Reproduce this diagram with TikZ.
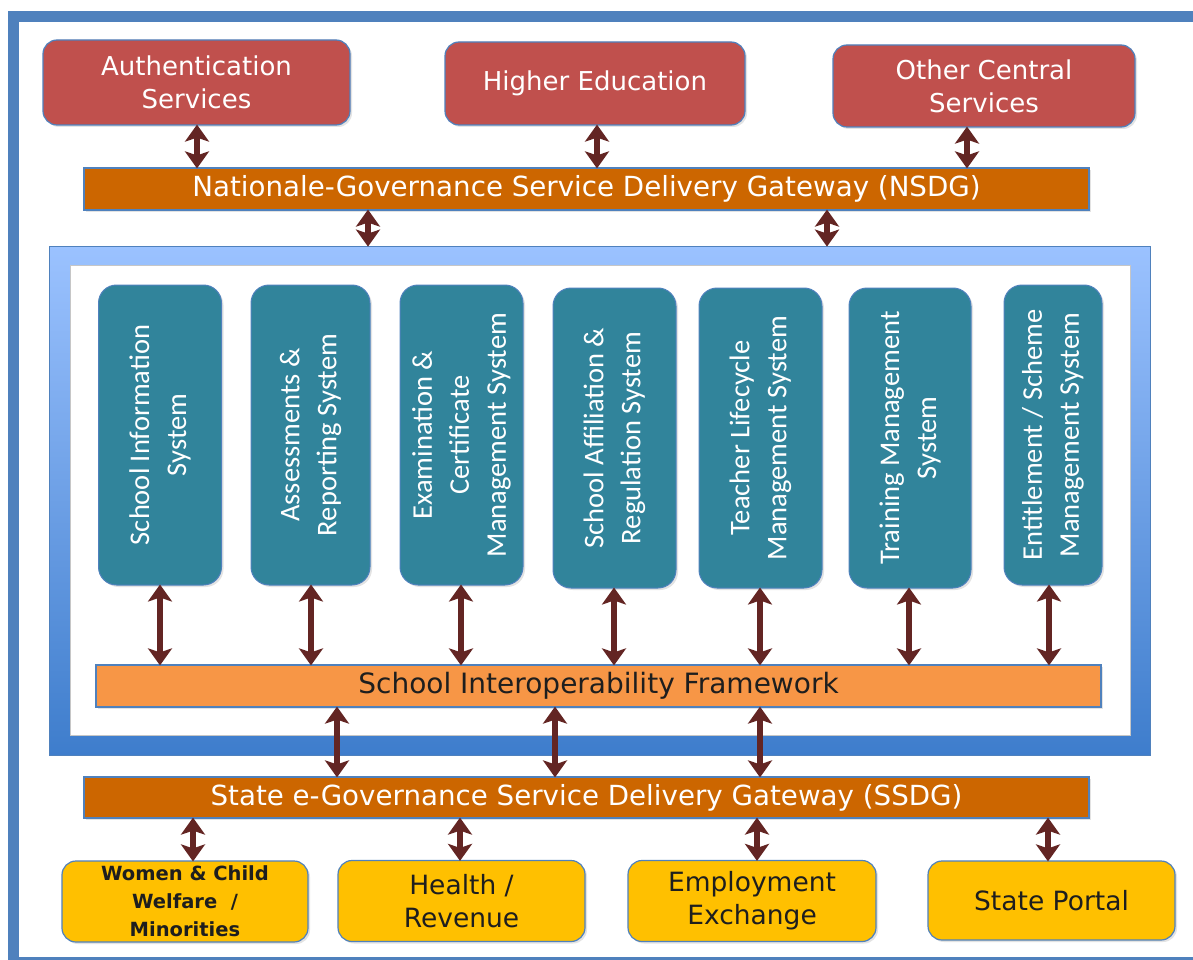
\documentclass[tikz,border=0pt]{standalone}
\usepackage{fontspec}
\setmainfont{DejaVu Sans}
\newfontfamily\calib{Carlito}
\usetikzlibrary{arrows.meta,shadows}
\definecolor{framebl}{RGB}{79,129,189}
\definecolor{boxedge}{RGB}{79,129,189}
\definecolor{redc}{RGB}{192,80,77}
\definecolor{gatec}{RGB}{204,102,0}
\definecolor{sifc}{RGB}{247,150,70}
\definecolor{tealc}{RGB}{49,132,155}
\definecolor{yelc}{RGB}{255,192,0}
\definecolor{arrc}{RGB}{99,37,35}
\definecolor{fraTop}{RGB}{155,194,255}
\definecolor{fraBot}{RGB}{62,125,204}
\definecolor{darktxt}{RGB}{30,30,30}
\begin{document}
\begin{tikzpicture}[x=1pt,y=-1pt,
  shad/.style={drop shadow={opacity=0.22,shadow xshift=2pt,shadow yshift=-2pt}},
  redbox/.style={shad,draw=boxedge,line width=1.2pt,fill=redc,rounded corners=14pt,inner sep=0pt,text=white,align=center,font=\fontsize{26}{33}\selectfont},
  gatebar/.style={shad,draw=boxedge,line width=1.2pt,fill=gatec,inner sep=0pt,text=white,font=\fontsize{27.7}{30}\selectfont,minimum width=1005pt},
  sifbar/.style={shad,draw=boxedge,line width=1.2pt,fill=sifc,inner sep=0pt,text=darktxt,font=\fontsize{28}{30}\selectfont,minimum width=1005pt,minimum height=42pt},
  tealbox/.style={shad,draw=boxedge,line width=1pt,fill=tealc,rounded corners=18pt,inner sep=0pt,minimum height=300pt},
  tealtext/.style={rotate=90,text=white,align=center,inner sep=0pt,font=\calib\fontsize{28.5}{37}\selectfont},
  yelbox/.style={shad,draw=boxedge,line width=1.2pt,fill=yelc,rounded corners=14pt,inner sep=0pt,text=darktxt,align=center,font=\fontsize{26.5}{33}\selectfont,minimum width=247pt,minimum height=81pt},
  dbl/.style={arrc,line width=5.5pt,{Stealth[length=17pt,width=24pt,inset=4pt]}-{Stealth[length=17pt,width=24pt,inset=4pt]},shorten <=-1pt,shorten >=-1pt}
]
\useasboundingbox (0,0) rectangle (1193,960);
\begin{scope}
\clip (0,0) rectangle (1193,960);
\fill[white] (0,0) rectangle (1193,960);
\draw[framebl,line width=11pt] (13.5,17) rectangle (1215,962);
\end{scope}

% top services
\node[redbox,minimum width=307pt,minimum height=85pt] (auth) at (196.5,82.5) {Authentication\\Services};
\node[redbox,minimum width=300pt,minimum height=83pt] (higher) at (595,83.5) {Higher Education};
\node[redbox,minimum width=302pt,minimum height=82pt] (other) at (984,86) {Other Central\\Services};

% NSDG
\node[gatebar,minimum height=42pt] (nsdg) at (586.5,189) {Nationale-Governance Service Delivery Gateway (NSDG)};

% system frame
\node[top color=fraTop,bottom color=fraBot,draw=framebl,line width=0.8pt,inner sep=0pt,minimum width=1101pt,minimum height=509pt] (sysframe) at (599.5,500.5) {};
\node[fill=white,draw=gray!45,line width=0.8pt,inner sep=0pt,minimum width=1060pt,minimum height=470pt] (sysinner) at (600,500) {};

% teal systems
\node[tealbox,minimum width=123pt] (s1) at (160,435) {};
\node[tealtext] (s1t) at (s1) {School Information\\System};
\node[tealbox,minimum width=119pt] (s2) at (310.5,435) {};
\node[tealtext] (s2t) at (s2) {Assessments \&\\Reporting System};
\node[tealbox,minimum width=123pt] (s3) at (461.5,435) {};
\node[tealtext] (s3t) at (s3) {Examination \&\\Certificate\\Management System};
\node[tealbox,minimum width=123pt] (s4) at (614.5,438) {};
\node[tealtext] (s4t) at (s4) {School Affiliation \&\\Regulation System};
\node[tealbox,minimum width=123pt] (s5) at (760.5,438) {};
\node[tealtext] (s5t) at (s5) {Teacher Lifecycle\\Management System};
\node[tealbox,minimum width=122pt] (s6) at (910,438) {};
\node[tealtext] (s6t) at (s6) {Training Management\\System};
\node[tealbox,minimum width=98pt] (s7) at (1053,435) {};
\node[tealtext] (s7t) at (s7) {Entitlement / Scheme\\Management System};

% SIF
\node[sifbar] (sif) at (598.5,686) {School Interoperability Framework};

% SSDG
\node[gatebar,minimum height=41pt] (ssdg) at (586.5,797.5) {State e-Governance Service Delivery Gateway (SSDG)};

% bottom boxes
\node[yelbox,minimum width=246pt,font=\bfseries\fontsize{19.5}{28}\selectfont] (wcw) at (185,901.5) {Women \& Child\\Welfare~~/\\Minorities};
\node[yelbox] (hr) at (461.5,901) {Health /\\Revenue};
\node[yelbox,minimum width=248pt] (emp) at (752,901) {Employment\\Exchange};
\node[yelbox,minimum height=79pt] (sp) at (1051.5,900.5) {State Portal};

% arrows top
\draw[dbl] (197,0 |- auth.south) -- (197,0 |- nsdg.north);
\draw[dbl] (597,0 |- higher.south) -- (597,0 |- nsdg.north);
\draw[dbl] (967,0 |- other.south) -- (967,0 |- nsdg.north);
\draw[dbl] (368,0 |- nsdg.south) -- (368,0 |- sysframe.north);
\draw[dbl] (827,0 |- nsdg.south) -- (827,0 |- sysframe.north);

% arrows systems to SIF
\draw[dbl] (s1.south) -- (s1.south |- sif.north);
\draw[dbl] (311,0 |- s2.south) -- (311,0 |- sif.north);
\draw[dbl] (461,0 |- s3.south) -- (461,0 |- sif.north);
\draw[dbl] (614,0 |- s4.south) -- (614,0 |- sif.north);
\draw[dbl] (760,0 |- s5.south) -- (760,0 |- sif.north);
\draw[dbl] (909,0 |- s6.south) -- (909,0 |- sif.north);
\draw[dbl] (1049,0 |- s7.south) -- (1049,0 |- sif.north);

% SIF to SSDG
\draw[dbl] (337,0 |- sif.south) -- (337,0 |- ssdg.north);
\draw[dbl] (555,0 |- sif.south) -- (555,0 |- ssdg.north);
\draw[dbl] (760,0 |- sif.south) -- (760,0 |- ssdg.north);

% SSDG to bottom
\draw[dbl] (193,0 |- ssdg.south) -- (193,0 |- wcw.north);
\draw[dbl] (460,0 |- ssdg.south) -- (460,0 |- hr.north);
\draw[dbl] (757,0 |- ssdg.south) -- (757,0 |- emp.north);
\draw[dbl] (1048,0 |- ssdg.south) -- (1048,0 |- sp.north);
\end{tikzpicture}
\end{document}
